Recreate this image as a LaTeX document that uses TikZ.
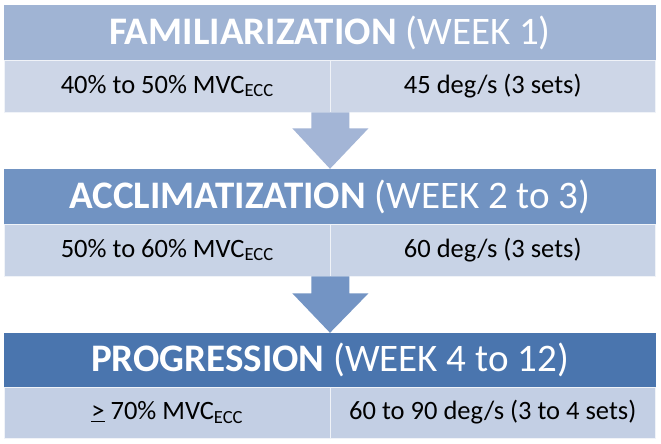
\documentclass[tikz,border=0pt]{standalone}
\usepackage{fontspec}
\setmainfont{Carlito}
\usetikzlibrary{calc}
\definecolor{hA}{HTML}{A0B4D4}
\definecolor{hB}{HTML}{7193C2}
\definecolor{hC}{HTML}{4A75AE}
\definecolor{cA}{HTML}{CDD6E7}
\definecolor{cB}{HTML}{C8D3E6}
\definecolor{cC}{HTML}{C3CFE4}
\definecolor{aA}{HTML}{A3B5D6}
\definecolor{aB}{HTML}{7394C4}
\begin{document}
\begin{tikzpicture}[x=1pt,y=-1pt,
  hdr/.style={rectangle, inner sep=0pt, minimum width=652pt, text=white,
    font=\fontsize{39}{45}\selectfont},
  cellbox/.style={rectangle, inner sep=0pt, minimum width=325.5pt, draw=white!70!cA, line width=0.8pt,
    font=\fontsize{26.5}{31}\selectfont, text=black}]
\useasboundingbox (0,0) rectangle (661,444);
\fill[white] (0,0) rectangle (661,444);
% block 1
\node[hdr, fill=hA, minimum height=55pt] (h1) at (330,32.5) {\textbf{FAMILIARIZATION} (WEEK 1)};
\node[cellbox, fill=cA, minimum height=52pt] (l1) at (167.25,86) {40\% to 50\% MVC\textsubscript{ECC}};
\node[cellbox, fill=cA, minimum height=52pt] (r1) at (492.75,86) {45 deg/s (3 sets)};
% block 2
\node[hdr, fill=hB, minimum height=55pt] (h2) at (330,196.5) {\textbf{ACCLIMATIZATION} (WEEK 2 to 3)};
\node[cellbox, fill=cB, minimum height=52pt] (l2) at (167.25,250) {50\% to 60\% MVC\textsubscript{ECC}};
\node[cellbox, fill=cB, minimum height=52pt] (r2) at (492.75,250) {60 deg/s (3 sets)};
% block 3
\node[hdr, fill=hC, minimum height=54pt] (h3) at (330,360) {\textbf{PROGRESSION} (WEEK 4 to 12)};
\node[cellbox, fill=cC, minimum height=51pt] (l3) at (167.25,412.5) {\underline{>} 70\% MVC\textsubscript{ECC}};
\node[cellbox, fill=cC, minimum height=51pt] (r3) at (492.75,412.5) {60 to 90 deg/s (3 to 4 sets)};
% arrows
\fill[aA] ($(l1.south east)+(-19,0)$) -- ++(0,16) -- ++(-19,0) -- (h2.north) -- ($(l1.south east)+(38,16)$) -- ++(-19,0) -- ++(0,-16) -- cycle;
\fill[aB] ($(l2.south east)+(-19,0)$) -- ++(0,17) -- ++(-19,0) -- (h3.north) -- ($(l2.south east)+(38,17)$) -- ++(-19,0) -- ++(0,-17) -- cycle;
\end{tikzpicture}
\end{document}
